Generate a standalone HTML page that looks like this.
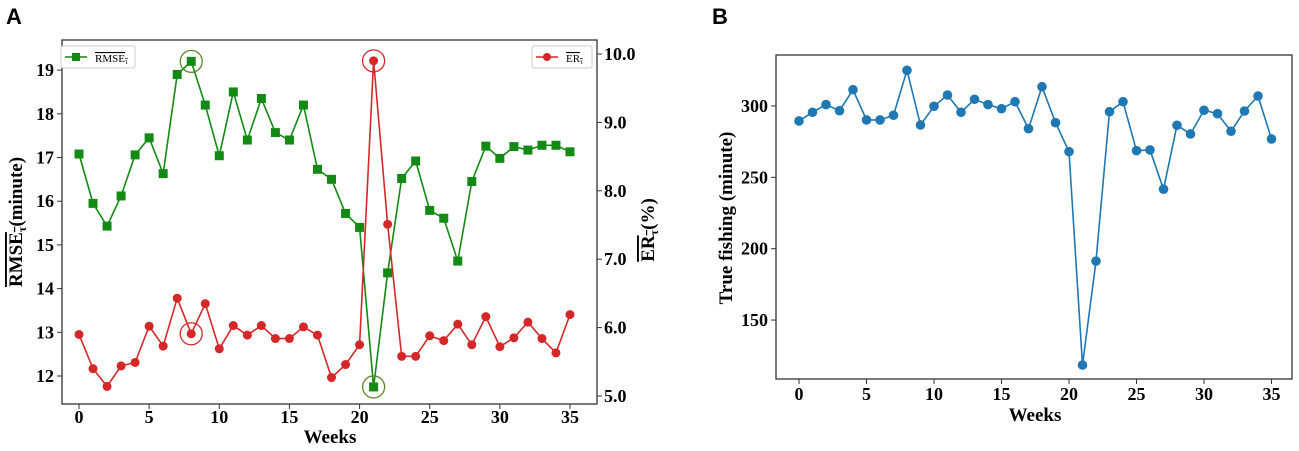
<!DOCTYPE html>
<html><head><meta charset="utf-8"><style>
body{margin:0;background:#fff}
svg text{font-family:"Liberation Serif",serif;font-weight:bold}
</style></head><body>
<svg id="s" width="1299" height="446" xmlns="http://www.w3.org/2000/svg">
<text x="6" y="24" style="font-family:'Liberation Sans',sans-serif;font-size:22px">A</text>
<text x="712" y="24" style="font-family:'Liberation Sans',sans-serif;font-size:22px">B</text>
<g id="ga"></g><g id="gb"></g>
</svg>
<script>
const weeks=[...Array(36).keys()];
const rmse=[17.08,15.95,15.43,16.12,17.06,17.45,16.63,18.9,19.2,18.2,17.04,18.5,17.4,18.35,17.57,17.4,18.2,16.73,16.5,15.72,15.4,11.75,14.36,16.52,16.92,15.79,15.61,14.63,16.45,17.26,16.98,17.25,17.17,17.28,17.28,17.13];
const er=[5.90,5.40,5.14,5.44,5.49,6.02,5.73,6.43,5.91,6.35,5.69,6.03,5.89,6.03,5.84,5.84,6.01,5.89,5.27,5.46,5.75,9.90,7.51,5.58,5.58,5.88,5.81,6.05,5.75,6.16,5.72,5.85,6.08,5.84,5.63,6.19];
const fishing=[289.5,295.6,301,296.7,311.4,290.2,290.2,293.5,325,286.7,299.8,307.7,295.6,304.7,301,298.1,303,284.1,313.5,288.3,268,118.5,191.3,296,303,268.7,269.2,241.7,286.5,280.4,297,294.6,282.3,296.5,307,276.9];
const xTicks=[0,5,10,15,20,25,30,35];
const leftTicks=[12,13,14,15,16,17,18,19];
const rightTicks=[5.0,6.0,7.0,8.0,9.0,10.0];
const bTicks=[150,200,250,300];
const NS="http://www.w3.org/2000/svg";
function mk(p,t,a,txt){const e=document.createElementNS(NS,t);for(const k in a)e.setAttribute(k,a[k]);if(txt!==undefined)e.textContent=txt;p.appendChild(e);return e;}
const ga=document.getElementById('ga'),gb=document.getElementById('gb');
const ax=i=>79+i*(491/35), ayL=v=>376-(v-12)*43.7, ayR=v=>396-(v-5)*68.4;
let r=mk(ga,'rect',{x:62,y:40,width:535,height:364,fill:'none',stroke:'#333','stroke-width':1.3});


xTicks.forEach(t=>{mk(ga,'line',{x1:ax(t),x2:ax(t),y1:404,y2:409,stroke:'#333'});let e=mk(ga,'text',{x:ax(t),y:423,'text-anchor':'middle','font-size':18},t);});
leftTicks.forEach(t=>{mk(ga,'line',{x1:57,x2:62,y1:ayL(t),y2:ayL(t),stroke:'#333'});let e=mk(ga,'text',{x:54,y:ayL(t)+6,'text-anchor':'end','font-size':18},t);});
rightTicks.forEach(t=>{mk(ga,'line',{x1:597,x2:602,y1:ayR(t),y2:ayR(t),stroke:'#333'});let e=mk(ga,'text',{x:604,y:ayR(t)+6,'font-size':18},t.toFixed(1));});
let t1=mk(ga,'text',{x:330,y:443,'text-anchor':'middle','font-size':19},'Weeks');

let yl=mk(ga,'text',{transform:'translate(22,222) rotate(-90)','text-anchor':'middle','font-size':19});

yl.innerHTML='<tspan style="text-decoration:overline">RMSE<tspan font-size="12" dy="4">τ</tspan></tspan><tspan dy="-4">(minute)</tspan>';
let yr=mk(ga,'text',{transform:'translate(654,230) rotate(-90)','text-anchor':'middle','font-size':19});

yr.innerHTML='<tspan style="text-decoration:overline">ER<tspan font-size="12" dy="4">τ</tspan></tspan><tspan dy="-4">(%)</tspan>';
let pg=mk(ga,'polyline',{points:rmse.map((v,i)=>ax(i)+','+ayL(v)).join(' '),fill:'none',stroke:'#138a13','stroke-width':1.6});

let pr=mk(ga,'polyline',{points:er.map((v,i)=>ax(i)+','+ayR(v)).join(' '),fill:'none',stroke:'#d62728','stroke-width':1.6});

rmse.forEach((v,i)=>{let e=mk(ga,'rect',{x:ax(i)-4.5,y:ayL(v)-4.5,width:9,height:9,fill:'#138a13'});});
er.forEach((v,i)=>{let e=mk(ga,'circle',{cx:ax(i),cy:ayR(v),r:4.5,fill:'#d62728'});});
let hi=rmse.indexOf(Math.max(...rmse)),lo=rmse.indexOf(Math.min(...rmse)),eh=er.indexOf(Math.max(...er));
[[ax(hi),ayL(rmse[hi]),'#5a8a2a'],[ax(lo),ayL(rmse[lo]),'#5a8a2a'],[ax(eh),ayR(er[eh]),'#d62728'],[ax(hi),ayR(er[hi]),'#d62728']].forEach(c=>{let e=mk(ga,'circle',{cx:c[0],cy:c[1],r:11,fill:'none',stroke:c[2],'stroke-width':1.3});});
let lg=mk(ga,'g',{});
mk(lg,'rect',{x:61,y:46,width:74,height:22,fill:'#fff',stroke:'#ccc',rx:2});
mk(lg,'line',{x1:65,x2:87,y1:57,y2:57,stroke:'#138a13','stroke-width':1.6});
mk(lg,'rect',{x:72,y:53,width:8,height:8,fill:'#138a13'});
lg.appendChild(document.createElementNS(NS,'text'));
let lt=lg.lastChild;lt.setAttribute('x',95);lt.setAttribute('y',62);lt.setAttribute('font-size',11);lt.setAttribute('style','font-weight:normal');lt.innerHTML='<tspan style="text-decoration:overline">RMSE<tspan font-size="7" dy="2">τ</tspan></tspan>';
let lr=mk(ga,'g',{});
mk(lr,'rect',{x:532,y:46,width:60,height:22,fill:'#fff',stroke:'#ccc',rx:2});
mk(lr,'line',{x1:536,x2:558,y1:57,y2:57,stroke:'#d62728','stroke-width':1.6});
mk(lr,'circle',{cx:547,cy:57,r:4,fill:'#d62728'});
lr.appendChild(document.createElementNS(NS,'text'));
let lt2=lr.lastChild;lt2.setAttribute('x',566);lt2.setAttribute('y',62);lt2.setAttribute('font-size',11);lt2.setAttribute('style','font-weight:normal');lt2.innerHTML='<tspan style="text-decoration:overline">ER<tspan font-size="7" dy="2">τ</tspan></tspan>';
// Panel B
const bx=i=>799+i*13.5, by=v=>106+(300-v)*1.427;
let rb=mk(gb,'rect',{x:776,y:55,width:516,height:324,fill:'none',stroke:'#333','stroke-width':1.3});

xTicks.forEach(t=>{mk(gb,'line',{x1:bx(t),x2:bx(t),y1:379,y2:384,stroke:'#333'});let e=mk(gb,'text',{x:bx(t),y:400,'text-anchor':'middle','font-size':18},t);});
bTicks.forEach(t=>{mk(gb,'line',{x1:771,x2:776,y1:by(t),y2:by(t),stroke:'#333'});let e=mk(gb,'text',{x:768,y:by(t)+6,'text-anchor':'end','font-size':18},t);});
let t2=mk(gb,'text',{x:1035,y:421,'text-anchor':'middle','font-size':19},'Weeks');

let t3=mk(gb,'text',{transform:'translate(732,218) rotate(-90)','text-anchor':'middle','font-size':19},'True fishing (minute)');

let pb=mk(gb,'polyline',{points:fishing.map((v,i)=>bx(i)+','+by(v)).join(' '),fill:'none',stroke:'#1f77b4','stroke-width':1.6});

fishing.forEach((v,i)=>{let e=mk(gb,'circle',{cx:bx(i),cy:by(v),r:4.8,fill:'#1f77b4'});});
</script>
</body></html>
